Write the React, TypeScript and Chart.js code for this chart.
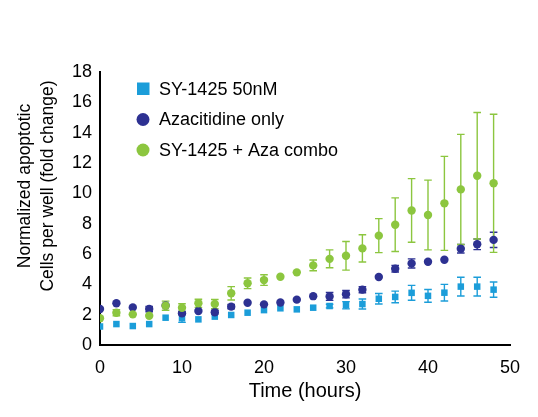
import { useEffect, useRef } from "react"
import Chart from "chart.js/auto"

// Time points (hours)
const hours = [0, 2, 4, 6, 8, 10, 12, 14, 16, 18, 20, 22, 24, 26, 28, 30, 32, 34, 36, 38, 40, 42, 44, 46, 48]

// SY-1425 50nM
const syValues = [1.22, 1.38, 1.25, 1.38, 1.8, 1.76, 1.69, 1.87, 1.98, 2.13, 2.3, 2.42, 2.35, 2.46, 2.57, 2.62, 2.7, 3.05, 3.17, 3.44, 3.24, 3.45, 3.85, 3.85, 3.65]
const syErrors = [0, 0, 0, 0, 0, 0.27, 0, 0, 0, 0, 0, 0, 0, 0, 0.12, 0.24, 0.33, 0.35, 0.38, 0.49, 0.42, 0.55, 0.62, 0.62, 0.5]

// Azacitidine only
const azaValues = [2.37, 2.75, 2.48, 2.37, 2.6, 2.09, 2.24, 2.16, 2.53, 2.79, 2.68, 2.8, 2.99, 3.22, 3.2, 3.35, 3.65, 4.48, 5.03, 5.38, 5.49, 5.62, 6.35, 6.64, 6.93]
const azaErrors = [0, 0, 0, 0.18, 0, 0.1, 0, 0.12, 0.14, 0, 0, 0, 0, 0, 0.26, 0.24, 0.2, 0, 0.22, 0.3, 0, 0, 0.28, 0.35, 0.5]

// SY-1425 + Aza combo
const comboValues = [1.76, 2.13, 2.02, 1.93, 2.59, 2.46, 2.75, 2.7, 3.41, 4.07, 4.28, 4.5, 4.79, 5.25, 5.68, 5.88, 6.37, 7.21, 7.93, 8.87, 8.57, 9.34, 10.26, 11.16, 10.66]
const comboErrors = [0, 0.2, 0, 0, 0.3, 0.26, 0.27, 0.3, 0.44, 0.35, 0.35, 0, 0, 0.35, 0.59, 0.94, 0.9, 1.12, 1.77, 2.1, 2.3, 3.1, 3.63, 4.17, 4.55]

const yTicks = [0, 2, 4, 6, 8, 10, 12, 14, 16, 18]
const xTicks = [0, 10, 20, 30, 40, 50]

const yTitle = ["Normalized apoptotic", "Cells per well (fold change)"]
const xTitle = "Time (hours)"

const FONT = "'Liberation Sans', Arial, sans-serif"

const errorBars = {
  id: "errorBars",
  beforeDatasetsDraw(chart: any) {
    const { ctx, scales } = chart
    const y = scales.y
    chart.data.datasets.forEach((ds: any, i: number) => {
      const meta = chart.getDatasetMeta(i)
      ctx.save()
      ctx.strokeStyle = ds.borderColor
      ctx.lineWidth = 1.4
      meta.data.forEach((pt: any, j: number) => {
        const e = ds.errors[j]
        if (!e) return
        const v = ds.data[j].y
        const top = y.getPixelForValue(v + e)
        const bot = y.getPixelForValue(v - e)
        ctx.beginPath()
        ctx.moveTo(pt.x, top)
        ctx.lineTo(pt.x, bot)
        ctx.moveTo(pt.x - 3.8, top)
        ctx.lineTo(pt.x + 3.8, top)
        ctx.moveTo(pt.x - 3.8, bot)
        ctx.lineTo(pt.x + 3.8, bot)
        ctx.stroke()
      })
      ctx.restore()
    })
  },
}

const extras = {
  id: "extras",
  afterDraw(chart: any) {
    const { ctx } = chart
    ctx.save()
    // y axis title, two lines
    ctx.fillStyle = "#000"
    ctx.font = "17.5px " + FONT
    ctx.textAlign = "center"
    ctx.textBaseline = "middle"
    ctx.translate(0, 186)
    ctx.rotate(-Math.PI / 2)
    ctx.fillText(yTitle[0], 0, 25)
    ctx.fillText(yTitle[1], 0, 48)
    ctx.restore()

    // legend inside the plot
    ctx.save()
    ctx.font = "18px " + FONT
    ctx.textBaseline = "middle"
    chart.data.datasets.forEach((ds: any, i: number) => {
      const cy = 89 + i * 30.5
      ctx.fillStyle = ds.backgroundColor
      if (ds.pointStyle === "rect") {
        ctx.fillRect(137, cy - 6.5, 12.5, 12.5)
      } else {
        ctx.beginPath()
        ctx.arc(143, cy, 6.5, 0, Math.PI * 2)
        ctx.fill()
      }
      ctx.fillStyle = "#000"
      ctx.fillText(ds.label, 159, cy + 1)
    })
    ctx.restore()
  },
}

export default function App() {
  const chartRef = useRef<HTMLCanvasElement>(null)
  const chartInstance = useRef<Chart | null>(null)

  useEffect(() => {
    if (!chartRef.current) return
    if (chartInstance.current) chartInstance.current.destroy()
    const ctx = chartRef.current.getContext("2d")
    if (!ctx) return

    const toPoints = (vals: number[]) => vals.map((v, i) => ({ x: hours[i], y: v }))

    chartInstance.current = new Chart(ctx, {
      type: "scatter",
      data: {
        datasets: [
          {
            label: "SY-1425 50nM",
            data: toPoints(syValues),
            errors: syErrors,
            backgroundColor: "#1b9dd9",
            borderColor: "#1b9dd9",
            pointStyle: "rect",
            pointRadius: 4.6,
            pointBorderWidth: 0,
            order: 3,
          },
          {
            label: "Azacitidine only",
            data: toPoints(azaValues),
            errors: azaErrors,
            backgroundColor: "#2d3192",
            borderColor: "#2d3192",
            pointStyle: "circle",
            pointRadius: 4.2,
            pointBorderWidth: 0,
            order: 2,
          },
          {
            label: "SY-1425 + Aza combo",
            data: toPoints(comboValues),
            errors: comboErrors,
            backgroundColor: "#8cc63f",
            borderColor: "#8cc63f",
            pointStyle: "circle",
            pointRadius: 4.2,
            pointBorderWidth: 0,
            order: 1,
          },
        ] as any,
      },
      options: {
        animation: false,
        responsive: true,
        maintainAspectRatio: false,
        layout: { padding: { top: 72, right: 28, left: 0, bottom: 0 } },
        plugins: {
          legend: { display: false },
          tooltip: { enabled: false },
        },
        scales: {
          x: {
            type: "linear",
            min: 0,
            max: 50,
            afterBuildTicks: (scale: any) => {
              scale.ticks = xTicks.map((v) => ({ value: v }))
            },
            afterFit: (scale: any) => {
              scale.height = 72
            },
            grid: { display: false, drawTicks: false },
            border: { display: true, color: "#000", width: 2 },
            ticks: {
              color: "#000",
              font: { family: FONT, size: 18 },
              padding: 12,
              maxRotation: 0,
            },
            title: {
              display: true,
              text: xTitle,
              color: "#000",
              font: { family: FONT, size: 20 },
              padding: { top: 0, bottom: 14 },
            },
          },
          y: {
            type: "linear",
            min: 0,
            max: 18,
            afterBuildTicks: (scale: any) => {
              scale.ticks = yTicks.map((v) => ({ value: v }))
            },
            afterFit: (scale: any) => {
              scale.width = 100
            },
            grid: { display: false, drawTicks: false },
            border: { display: true, color: "#000", width: 2 },
            ticks: {
              color: "#000",
              font: { family: FONT, size: 18 },
              padding: 8,
            },
          },
        },
      },
      plugins: [errorBars, extras],
    })

    return () => {
      if (chartInstance.current) {
        chartInstance.current.destroy()
        chartInstance.current = null
      }
    }
  }, [])

  return (
    <div style={{ position: "fixed", left: 0, top: 0, width: 538, height: 417, background: "#fff" }}>
      <canvas ref={chartRef}></canvas>
    </div>
  )
}
